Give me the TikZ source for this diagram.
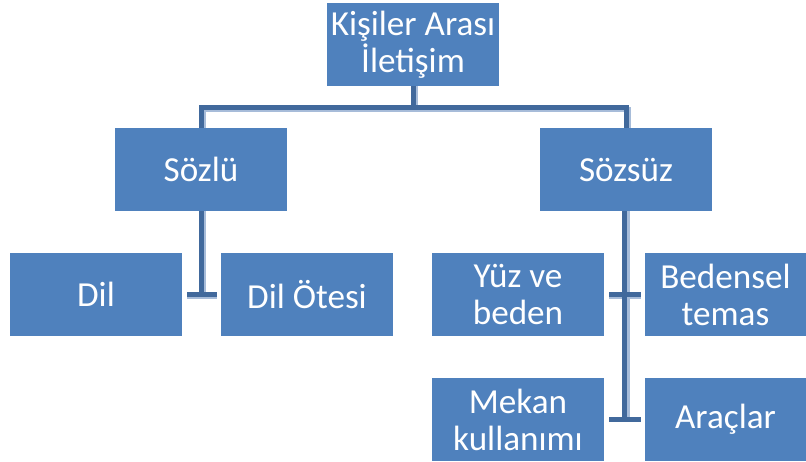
\documentclass[tikz,border=0pt]{standalone}
\usepackage{fontspec}
\setmainfont{Carlito}
\usetikzlibrary{calc}

\definecolor{kutumavi}{HTML}{4F81BD}
\definecolor{cizgimavi}{HTML}{41699C}
\definecolor{golgemavi}{HTML}{A7BCD9}

\tikzset{
  kutu/.style={rectangle, fill=kutumavi, text=white, inner sep=0pt,
    minimum width=3.44cm, minimum height=1.66cm, align=center,
    font=\fontsize{20}{21}\selectfont},
  baglanti/.style={draw=cizgimavi, line width=0.1cm},
  golge/.style={draw=golgemavi, line width=0.1cm}
}

\begin{document}
\begin{tikzpicture}[x=0.02cm, y=-0.02cm]
				\useasboundingbox (0,0) rectangle (806,461);
				
				% kutular
				\node[kutu] (ust) at (413,44.5) {Kişiler Arası\\İletişim};
				\node[kutu] (sozlu) at (201,169.5) {Sözlü};
				\node[kutu] (sozsuz) at (626,169.5) {Sözsüz};
				
				\node[kutu] (dil) at (96,294.5) {Dil};
				\node[kutu] (diloetesi) at (307,294.5) {Dil Ötesi};
				
				\node[kutu] (yuz) at (518,294.5) {Yüz ve\\beden};
				\node[kutu, minimum width=3.22cm] (beden) at (725.5,294.5) {Bedensel\\temas};
				\node[kutu] (mekan) at (518,419.5) {Mekan\\kullanımı};
				\node[kutu, minimum width=3.22cm] (arac) at (725.5,419.5) {Araçlar};
				
				\coordinate (ayrim) at (413,107);
				
				% golgeler
				\draw[golge] ([xshift=1.2pt]ust.south) -- ([xshift=1.2pt,yshift=-1.2pt]ayrim);
				\draw[golge] ([xshift=1.2pt]sozlu.north) |- ([yshift=-1.2pt]ayrim) -| ([xshift=1.2pt]sozsuz.north);
				\draw[golge] ([xshift=1.2pt]sozlu.south) -- ([xshift=1.2pt,yshift=-1.2pt]sozlu.south |- dil.east);
				\draw[golge] ([xshift=2.8pt,yshift=-1.2pt]dil.east) -- ([xshift=-2.3pt,yshift=-1.2pt]diloetesi.west);
				\draw[golge] ([xshift=0.6pt]sozsuz.south) -- ([xshift=0.6pt]sozsuz.south |- mekan.east);
				\draw[golge] ([xshift=2.8pt,yshift=-1.2pt]yuz.east) -- ([xshift=-2.3pt,yshift=-1.2pt]beden.west);
				
				% baglantilar
				\draw[baglanti] (ust.south) -- (ayrim);
				\draw[baglanti] (sozlu.north) |- (ayrim) -| (sozsuz.north);
				\draw[baglanti] (sozlu.south) -- (sozlu.south |- dil.east);
				\draw[baglanti] ([xshift=2.8pt]dil.east) -- ([xshift=-2.3pt]diloetesi.west);
				\draw[baglanti] ([xshift=-0.6pt]sozsuz.south) -- ([xshift=-0.6pt]sozsuz.south |- mekan.east);
				\draw[baglanti] ([xshift=2.8pt]yuz.east) -- ([xshift=-2.3pt]beden.west);
				\draw[baglanti] ([xshift=2.8pt]mekan.east) -- ([xshift=-2.3pt]arac.west);
			\end{tikzpicture}
\end{document}
